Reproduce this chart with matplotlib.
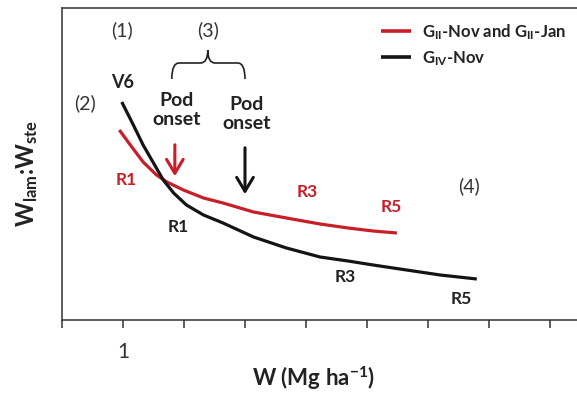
import numpy as np
import matplotlib
matplotlib.use("Agg")
import matplotlib.pyplot as plt
from matplotlib.path import Path
from matplotlib.patches import PathPatch

plt.rcParams['font.family'] = ['Lato', 'DejaVu Sans']
plt.rcParams['mathtext.fontset'] = 'custom'
plt.rcParams['mathtext.rm'] = 'Lato'
plt.rcParams['mathtext.bf'] = 'Lato:bold'
plt.rcParams['mathtext.it'] = 'Lato:italic'

# G_II-Nov and G_II-Jan (red)
w_red = [0.94, 1.12, 1.33, 1.55, 1.72, 1.99, 2.32, 2.64, 3.14, 3.68, 4.23, 4.69, 5.10, 5.49]
r_red = [1.90, 1.75, 1.58, 1.45, 1.38, 1.30, 1.22, 1.17, 1.08, 1.02, 0.96, 0.92, 0.89, 0.87]

# G_IV-Nov (black)
w_blk = [0.98, 1.17, 1.33, 1.50, 1.66, 1.83, 2.04, 2.32, 2.64, 3.14, 3.68, 4.23, 4.69,
         5.10, 5.65, 6.20, 6.80]
r_blk = [2.18, 1.95, 1.75, 1.57, 1.40, 1.27, 1.15, 1.05, 0.97, 0.83, 0.72, 0.63, 0.59,
         0.55, 0.50, 0.45, 0.41]

xticks = list(range(9))
xticklabels = ['' if t != 1 else '1' for t in xticks]

RED = '#c81e28'
BLK = '#141414'
TXT = '#222222'
W, H = 577, 393

fig = plt.figure(figsize=(W / 100, H / 100), dpi=100)
ax = fig.add_axes([62 / W, (H - 320) / H, (W - 62) / W, 312 / H])

ax.plot(w_red, r_red, color=RED, lw=2.3, solid_capstyle='butt', solid_joinstyle='round',
        label=r'$\mathbf{G_{II}}$-Nov and $\mathbf{G_{II}}$-Jan')
ax.plot(w_blk, r_blk, color=BLK, lw=2.3, solid_capstyle='butt', solid_joinstyle='round',
        label=r'$\mathbf{G_{IV}}$-Nov')

ax.set_xlim(0, 515 / 61)
ax.set_ylim(0, 3.12)
ax.set_xticks(xticks)
ax.set_xticklabels(xticklabels, fontsize=15, color='#333333')
ax.set_yticks([])
ax.tick_params(axis='x', direction='out', length=6, width=1.1, pad=10, colors='#333333')
for s in ['left', 'bottom', 'top']:
    ax.spines[s].set_linewidth(1.1)
    ax.spines[s].set_color('#333333')
ax.spines['right'].set_visible(False)

ax.set_xlabel(r'W (Mg ha$^{\mathbf{-1}}$)', fontsize=16, fontweight='bold', color=TXT)
ax.xaxis.set_label_coords((313 - 62) / 515, -(378 - 320) / 312)
ax.xaxis.label.set_va('center')
fig.text(27 / W, 1 - 174 / H, r'$\mathbf{W_{lam}}$:$\mathbf{W_{ste}}$', rotation=90,
         ha='center', va='center', fontsize=17, fontweight='bold', color=TXT)

leg = ax.legend(loc='upper left', bbox_to_anchor=((381 - 62) / 515, (320 - 22) / 312),
                frameon=False, fontsize=12, handlelength=1.8, handletextpad=0.65,
                labelspacing=0.45, borderpad=0, borderaxespad=0)
for t in leg.get_texts():
    t.set_fontweight('bold')
    t.set_color(TXT)
for h in leg.get_lines():
    h.set_linewidth(2.6)

# region labels
for txt, x, y in [('(1)', 0.98, 2.90), ('(3)', 2.39, 2.90), ('(2)', 0.377, 2.17), ('(4)', 6.67, 1.34)]:
    ax.text(x, y, txt, ha='center', va='center', fontsize=14, color='#333333')

ax.text(1.0, 2.37, 'V6', ha='center', va='center', fontsize=13, fontweight='bold', color=TXT)
ax.text(1.885, 2.10, 'Pod\nonset', ha='center', va='center', fontsize=14,
        fontweight='bold', color=TXT, linespacing=1.15)
ax.text(3.02, 2.06, 'Pod\nonset', ha='center', va='center', fontsize=14,
        fontweight='bold', color=TXT, linespacing=1.15)

stage_labels = [('R1', 1.05, 1.40, RED), ('R3', 4.02, 1.28, RED), ('R5', 5.39, 1.13, RED),
                ('R1', 1.90, 0.93, TXT), ('R3', 4.64, 0.43, TXT),
                ('R5', 6.54, 0.21, TXT)]
for txt, x, y, c in stage_labels:
    ax.text(x, y, txt, ha='center', va='center', fontsize=12.5, fontweight='bold', color=c)

# pod onset arrows
ax.annotate('', xy=(1.85, 1.41), xytext=(1.85, 1.78),
            arrowprops=dict(arrowstyle='->,head_length=1.0,head_width=0.6', color=RED, lw=2.2))
ax.annotate('', xy=(3.0, 1.23), xytext=(3.0, 1.75),
            arrowprops=dict(arrowstyle='->,head_length=1.0,head_width=0.6', color=BLK, lw=2.2))

# curly brace over the pod onset range
x0, x1, xm = 1.80, 3.00, 2.39
yb, yh, yt = 2.41, 2.57, 2.70
verts = [(x0, yb), (x0, yh), (x0 + 0.12, yh),
         (xm - 0.12, yh), (xm, yh), (xm, yt),
         (xm, yt), (xm, yh), (xm + 0.12, yh),
         (x1 - 0.12, yh), (x1, yh), (x1, yb)]
codes = [Path.MOVETO, Path.CURVE3, Path.CURVE3,
         Path.LINETO, Path.CURVE3, Path.CURVE3,
         Path.MOVETO, Path.CURVE3, Path.CURVE3,
         Path.LINETO, Path.CURVE3, Path.CURVE3]
ax.add_patch(PathPatch(Path(verts, codes), fill=False, lw=1.2, color=TXT))

fig.savefig('out.png', dpi=100)
